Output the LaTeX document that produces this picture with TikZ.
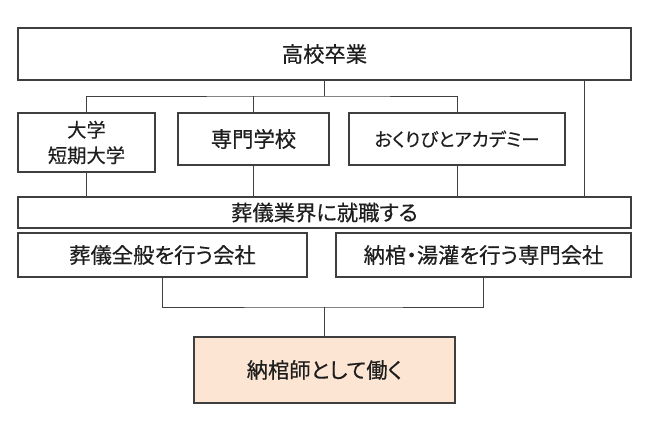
\documentclass[tikz,border=0pt]{standalone}
\usepackage{fontspec}
\setmainfont{Noto Sans CJK JP}[RawFeature=+palt, FakeBold=0.4]
\definecolor{peach}{HTML}{FCE6D3}
\definecolor{boxgray}{HTML}{3F3F3F}
\definecolor{linegray}{HTML}{404040}
\definecolor{textgray}{HTML}{1E1E1E}
\tikzset{
  box/.style={draw=boxgray, line width=1.1pt, fill=white, inner sep=0pt, text=textgray, align=center},
  conn/.style={draw=linegray, line width=0.9pt},
  big/.style={font=\fontsize{21.3}{25}\selectfont},
  mid/.style={font=\fontsize{19.3}{25.5}\selectfont}
}
\begin{document}
\begin{tikzpicture}[x=1pt,y=-1pt]
\useasboundingbox (0,0) rectangle (661,426);
\node[box,big, minimum width=613pt, minimum height=52pt] (top) at (324.5,54) {高校卒業};
\node[box,mid, minimum width=137pt, minimum height=59pt] (daigaku) at (86.5,142.5) {大学\\短期大学};
\node[box,big, minimum width=151pt, minimum height=52pt] (senmon) at (253.5,139) {専門学校};
\node[box,font=\fontsize{18.5}{25}\selectfont, minimum width=216pt, minimum height=52pt] (okuri) at (457,139) {おくりびとアカデミー};
\node[box,big, minimum width=613pt, minimum height=31pt] (sougi) at (324.5,212.5) {葬儀業界に就職する};
\node[box,big, minimum width=289pt, minimum height=44pt] (zenpan) at (162.5,255) {葬儀全般を行う会社};
\node[box,big, minimum width=295pt, minimum height=44pt] (nokan) at (483.5,255) {納棺・湯灌を行う専門会社};
\node[box,big, fill=peach, minimum width=261pt, minimum height=66pt] (final) at (324.5,370) {納棺師として働く};
\coordinate (j1) at (324.5,96);
\coordinate (j2) at (324.5,307);
\coordinate (r) at (584,0);
\draw[conn] (top.south) -- (j1);
\draw[conn] (daigaku.north) |- (j1) -| (okuri.north);
\draw[conn] (senmon.north) -- (senmon.north |- j1);
\draw[conn] (daigaku.south) -- (daigaku.south |- sougi.north);
\draw[conn] (senmon.south) -- (senmon.south |- sougi.north);
\draw[conn] (okuri.south) -- (okuri.south |- sougi.north);
\draw[conn] (top.south -| r) -- (sougi.north -| r);
\draw[conn] (zenpan.south) |- (j2) -| (nokan.south);
\draw[conn] (j2) -- (final.north);
\end{tikzpicture}
\end{document}
